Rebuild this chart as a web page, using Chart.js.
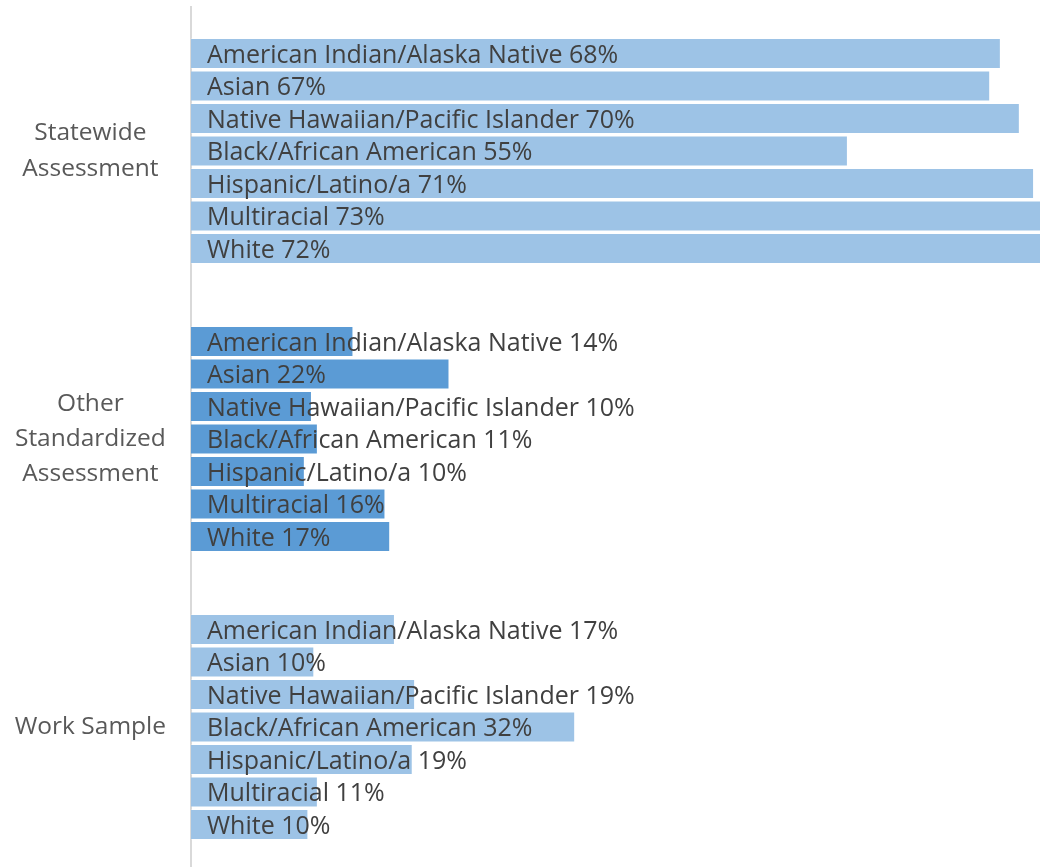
<!DOCTYPE html>
<html>
<head>
<meta charset="utf-8">
<script src="https://cdn.jsdelivr.net/npm/chart.js@4.4.1/dist/chart.umd.min.js"></script>
<style>
  html, body { margin: 0; padding: 0; background: #fff; overflow: hidden; }
  #wrap { position: relative; width: 1040px; height: 872px; }
</style>
</head>
<body>
<div id="wrap"><canvas id="chart"></canvas></div>
<script>
const groups = [["Statewide", "Assessment"], ["Other", "Standardized", "Assessment"], ["Work Sample"]];
const races = [
  "American Indian/Alaska Native",
  "Asian",
  "Native Hawaiian/Pacific Islander",
  "Black/African American",
  "Hispanic/Latino/a",
  "Multiracial",
  "White"
];
// percent per race, in group order: Statewide, Other Standardized, Work Sample
const americanIndian = [68.3, 13.7, 17.2];
const asian = [67.4, 21.8, 10.4];
const nativeHawaiian = [69.9, 10.2, 18.9];
const black = [55.4, 10.7, 32.4];
const hispanic = [71.1, 9.6, 18.7];
const multiracial = [73, 16.4, 10.7];
const white = [72, 16.8, 9.9];
const seriesValues = [americanIndian, asian, nativeHawaiian, black, hispanic, multiracial, white];

const light = "#9dc3e6";
const dark = "#5b9bd5";
const groupColors = [light, dark, light];

const FONT = "'Open Sans', sans-serif";

const barText = {
  id: "barText",
  afterDatasetsDraw(chart) {
    const ctx = chart.ctx;
    ctx.save();
    ctx.font = "25px " + FONT;
    ctx.fillStyle = "#404040";
    ctx.textAlign = "left";
    ctx.textBaseline = "middle";
    chart.data.datasets.forEach((ds, i) => {
      chart.getDatasetMeta(i).data.forEach((bar, j) => {
        ctx.fillText(ds.label + " " + Math.round(ds.data[j]) + "%", bar.base + 16, bar.y + 2);
      });
    });
    ctx.restore();
  }
};

new Chart(document.getElementById("chart"), {
  type: "bar",
  data: {
    labels: groups,
    datasets: races.map((r, i) => ({
      label: r,
      data: seriesValues[i],
      backgroundColor: groupColors,
      borderColor: "rgba(255,255,255,0.25)",
      borderWidth: 1,
      barPercentage: 0.95,
      categoryPercentage: 0.79
    }))
  },
  options: {
    indexAxis: "y",
    responsive: true,
    maintainAspectRatio: false,
    animation: false,
    layout: { padding: { top: 7, bottom: 1, left: 0, right: 0 } },
    plugins: { legend: { display: false }, tooltip: { enabled: false } },
    scales: {
      x: { display: false, min: 0, max: 71.6 },
      y: {
        grid: { display: false, drawTicks: false },
        border: { display: true, color: "#d9d9d9", width: 2 },
        ticks: {
          crossAlign: "center",
          padding: 25,
          color: "#595959",
          font: { family: FONT, size: 24.5, lineHeight: 1.43 }
        },
        afterFit(scale) {
          scale.paddingTop = 0;
          scale.paddingBottom = 0;
          scale.width = 191;
        }
      }
    }
  },
  plugins: [barText]
});
</script>
</body>
</html>
